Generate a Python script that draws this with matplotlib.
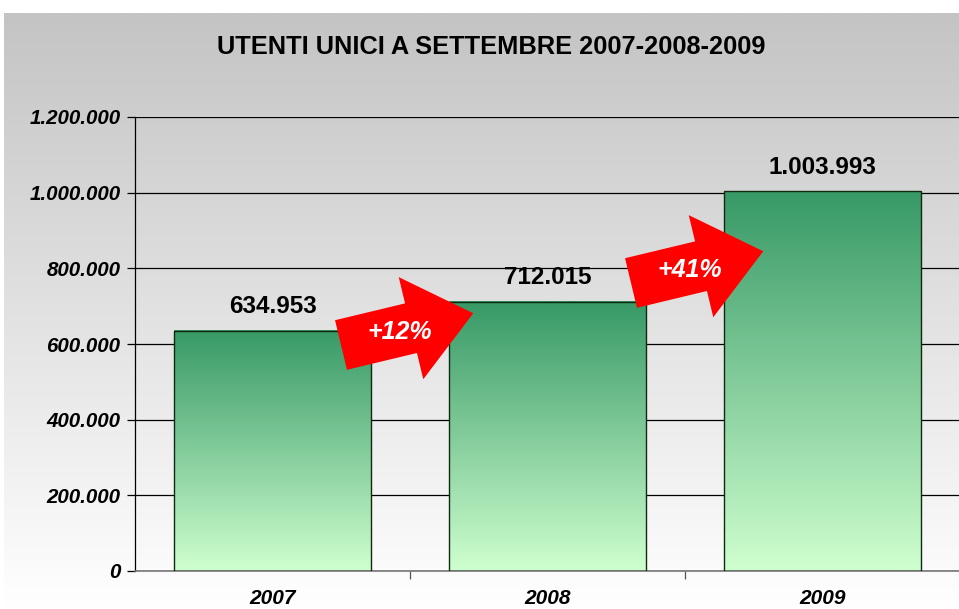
import numpy as np
import matplotlib
matplotlib.use("Agg")
import matplotlib.pyplot as plt
from matplotlib.patches import Polygon
from matplotlib.colors import LinearSegmentedColormap

plt.rcParams['font.family'] = ['Liberation Sans', 'DejaVu Sans']

# ---- data ----
years = ["2007", "2008", "2009"]
users = [634953, 712015, 1003993]
growth_labels = ["+12%", "+41%"]
yticks = [0, 200000, 400000, 600000, 800000, 1000000, 1200000]

def it_fmt(v):
    return f"{v:,}".replace(",", ".")

W, H = 959, 609
fig = plt.figure(figsize=(W / 100, H / 100), dpi=100)
fig.patch.set_facecolor("white")

# background gradient (grey top -> white bottom)
bg = fig.add_axes([4 / W, 0, 1 - 4 / W, (H - 13) / H], zorder=0)
grad = np.linspace(0, 1, 256).reshape(-1, 1)
bg_cmap = LinearSegmentedColormap.from_list("bg", ["#c4c4c4", "#ffffff"])
bg.imshow(grad, aspect="auto", cmap=bg_cmap, extent=[0, 1, 1, 0])
bg.set_axis_off()

ax = fig.add_axes([135 / W, 38 / H, 825 / W, 454 / H], zorder=1)
ax.patch.set_alpha(0)

x = np.arange(len(years))
bw = 0.716
bars = ax.bar(x, users, width=bw, facecolor="none", edgecolor="#102a10", linewidth=1.0, zorder=3)
bar_cmap = LinearSegmentedColormap.from_list("bar", ["#379966", "#cfffcf"])
for b in bars:
    x0, y0 = b.get_x(), b.get_y()
    w, h = b.get_width(), b.get_height()
    ax.imshow(grad, aspect="auto", cmap=bar_cmap, extent=[x0, x0 + w, y0, y0 + h],
              origin="upper", zorder=2)

ax.set_xlim(-0.5, len(years) - 0.5)
ax.set_ylim(0, 1200000)

for i, v in enumerate(users):
    ax.annotate(it_fmt(v), (x[i], v), xytext=(0, 9), textcoords="offset points",
                ha="center", va="bottom", fontsize=17.5, fontweight="bold", color="black", zorder=5)

ax.set_yticks(yticks)
ax.set_yticklabels([it_fmt(v) for v in yticks], fontsize=14.8, fontweight="bold", style="italic")
ax.yaxis.grid(True, color="black", linewidth=0.9, zorder=1)
ax.set_axisbelow(True)
ax.tick_params(axis="y", length=6, width=0.9, pad=4.5, color="black")

ax.set_xticks(x)
ax.set_xticklabels(years, fontsize=15, fontweight="bold", style="italic")
ax.set_xticks(np.arange(len(years)) + 0.5, minor=True)
ax.tick_params(axis="x", which="major", length=0, pad=13)
ax.tick_params(axis="x", which="minor", length=6, width=0.9, color="#555555")

for s in ["top", "right"]:
    ax.spines[s].set_visible(False)
ax.spines["left"].set_color("black")
ax.spines["left"].set_linewidth(0.9)
ax.spines["bottom"].set_color("#777777")
ax.spines["bottom"].set_linewidth(1.2)

fig.text(491 / W, 1 - 47 / H, "UTENTI UNICI A SETTEMBRE 2007-2008-2009",
         ha="center", va="center", fontsize=18.3, fontweight="bold")

# red growth arrows (pixel geometry)
def arrow(tail, angle_deg, length, shaft_w, head_w, head_l):
    a = np.deg2rad(angle_deg)
    u = np.array([np.cos(a), -np.sin(a)])
    n = np.array([np.sin(a), np.cos(a)])
    t = np.array(tail, float)
    hb = t + u * (length - head_l)
    pts = [t - n * shaft_w / 2, hb - n * shaft_w / 2, hb - n * head_w / 2,
           t + u * length, hb + n * head_w / 2, hb + n * shaft_w / 2, t + n * shaft_w / 2]
    pts = [(p[0] / W, 1 - p[1] / H) for p in pts]
    fig.patches.append(Polygon(pts, closed=True, transform=fig.transFigure,
                               facecolor="#ff0000", edgecolor="none", zorder=10))

arrow_tails = [(341, 345), (631, 283)]
text_pos = [(400, 332), (690, 270)]
for (tp, lbl, tpos) in zip(arrow_tails, growth_labels, text_pos):
    arrow(tp, 13.5, 136, 51, 105, 64)
    fig.text(tpos[0] / W, 1 - tpos[1] / H, lbl, ha="center", va="center", color="white",
             fontsize=18, fontweight="bold", style="italic", zorder=11)

fig.savefig("out.png", dpi=100)
